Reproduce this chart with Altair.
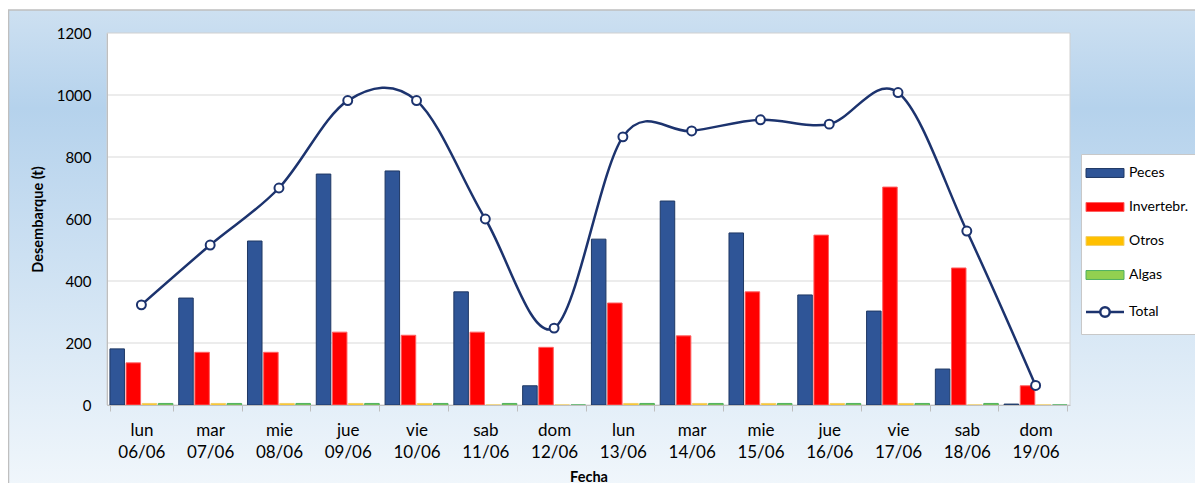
import altair as alt
import pandas as pd

# ---- data ----
dias = ["lun 06/06", "mar 07/06", "mie 08/06", "jue 09/06", "vie 10/06", "sab 11/06", "dom 12/06",
        "lun 13/06", "mar 14/06", "mie 15/06", "jue 16/06", "vie 17/06", "sab 18/06", "dom 19/06"]
peces = [181, 345, 529, 745, 755, 365, 62, 535, 658, 555, 355, 303, 116, 3]
invertebr = [136, 170, 170, 235, 225, 235, 186, 329, 223, 365, 548, 703, 442, 62]
otros = [5, 5, 5, 5, 5, 0, 0, 5, 5, 5, 5, 5, 0, 0]
algas = [5, 5, 5, 5, 5, 5, 0, 5, 5, 5, 5, 5, 5, 0]
total = [323, 516, 700, 982, 982, 600, 248, 865, 884, 920, 906, 1008, 561, 63]
series = ["Peces", "Invertebr.", "Otros", "Algas", "Total"]
y_ticks = [0, 200, 400, 600, 800, 1000, 1200]
grid_vals = [200, 400, 600, 800, 1000]

# ---- styles ----
fills = ["#2f5597", "#ff0000", "#ffc000", "#92d050", "#ffffff"]
strokes = ["#1f3864", "#ff6060", "#f2d06b", "#4fb060", "#1c336e"]
navy = "#1c336e"
FONT = "Lato"
W, H = 963, 372
PL, PT, PR, PB = 99, 25, 125, 78

bar_rows = []
for i, d in enumerate(dias):
    for s, vals in zip(series[:4], [peces, invertebr, otros, algas]):
        bar_rows.append({"dia": d, "serie": s, "valor": vals[i]})
bar_df = pd.DataFrame(bar_rows)
tot_df = pd.DataFrame({"dia": dias, "valor": total})
grid_df = pd.DataFrame({"valor": grid_vals})
one = pd.DataFrame({"k": [0]})

x_scale = alt.Scale(domain=dias, paddingInner=0.085, paddingOuter=0.0425)
y_scale = alt.Scale(domain=[0, 1200])

x_axis = alt.Axis(
    title="Fecha", titleFont=FONT, titleFontSize=14.5, titleFontWeight="bold", titleColor="#000000",
    titlePadding=10,
    labelExpr="split(datum.label, ' ')", labelFont=FONT, labelFontSize=17, labelColor="#000000",
    labelLineHeight=22, labelPadding=11, labelAngle=0,
    domainColor="#bfbfbf", tickColor="#bfbfbf", tickSize=6, tickBand="extent",
    grid=False, zindex=1,
)
y_axis = alt.Axis(
    title="Desembarque (t)", titleFont=FONT, titleFontSize=14.5, titleFontWeight="bold", titleColor="#000000",
    titlePadding=11,
    values=y_ticks, format="d", labelFont=FONT, labelFontSize=15, labelColor="#000000", labelPadding=16,
    ticks=False, domainColor="#bfbfbf", grid=False, zindex=1,
)

rect_path = "M-2,-0.47H2V0.47H-2Z"
tot_path = "M-2,0H-0.5M0.5,0A0.5,0.5 0 1,1 -0.5,0A0.5,0.5 0 1,1 0.5,0M0.5,0H2"
legend = alt.Legend(
    title=None, orient="none", legendX=974, legendY=121,
    fillColor="white", strokeColor="#c8c8c8", padding=12,
    symbolSize=361, symbolOffset=5, labelOffset=17, rowPadding=20,
    labelFont=FONT, labelFontSize=14, labelColor="#000000",
    symbolType={"expr": "datum.value === 'Total' ? '%s' : '%s'" % (tot_path, rect_path)},
    symbolStrokeWidth={"expr": "datum.value === 'Total' ? 2.5 : 1"},
    symbolOpacity=1,
)

bg = alt.Chart(one).mark_rect(
    color=alt.Gradient(
        gradient="linear", x1=0, x2=0, y1=0, y2=1,
        stops=[alt.GradientStop(offset=0, color="#cde0f1"),
               alt.GradientStop(offset=0.2, color="#b5d2ec"),
               alt.GradientStop(offset=1, color="#f3f8fc")],
    ),
    stroke="#bfbfbf", strokeWidth=1.5,
).encode(x=alt.value(-PL + 0.5), x2=alt.value(W + PR + 20), y=alt.value(-PT + 2), y2=alt.value(H + PB + 20))

plot_bg = alt.Chart(one).mark_rect(color="white", stroke="#d0d0d0", strokeWidth=1).encode(
    x=alt.value(0), x2=alt.value(W), y=alt.value(0), y2=alt.value(H))

grid = alt.Chart(grid_df).mark_rule(color="#d9d9d9", strokeWidth=1).encode(
    y=alt.Y("valor:Q", scale=y_scale, axis=y_axis), x=alt.value(0), x2=alt.value(W))

bars = alt.Chart(bar_df).mark_bar(strokeWidth=1).encode(
    x=alt.X("dia:N", scale=x_scale, axis=x_axis),
    xOffset=alt.XOffset("serie:N", scale=alt.Scale(domain=series[:4], paddingInner=0.1, paddingOuter=0.0)),
    y=alt.Y("valor:Q", scale=y_scale, axis=y_axis),
    color=alt.Color("serie:N", scale=alt.Scale(domain=series, range=fills), legend=legend),
    stroke=alt.Stroke("serie:N", scale=alt.Scale(domain=series, range=strokes), legend=legend),
)

line = alt.Chart(tot_df).mark_line(interpolate="cardinal", tension=0, color=navy, strokeWidth=2.5).encode(
    x=alt.X("dia:N", scale=x_scale, axis=x_axis),
    y=alt.Y("valor:Q", scale=y_scale, axis=y_axis),
)
pts = alt.Chart(tot_df).mark_point(shape="circle", filled=True, fill="white", stroke=navy,
                                   strokeWidth=2, size=80, opacity=1).encode(
    x=alt.X("dia:N", scale=x_scale, axis=x_axis),
    y=alt.Y("valor:Q", scale=y_scale, axis=y_axis),
)

chart = alt.layer(bg, plot_bg, grid, bars, line, pts).properties(
    width=W, height=H,
    autosize=alt.AutoSizeParams(type="none"),
    padding={"left": PL, "top": PT, "right": PR, "bottom": PB},
).configure_view(stroke=None).configure(background="white")

chart.save("out.html", embed_options={"renderer": "svg", "actions": False})
